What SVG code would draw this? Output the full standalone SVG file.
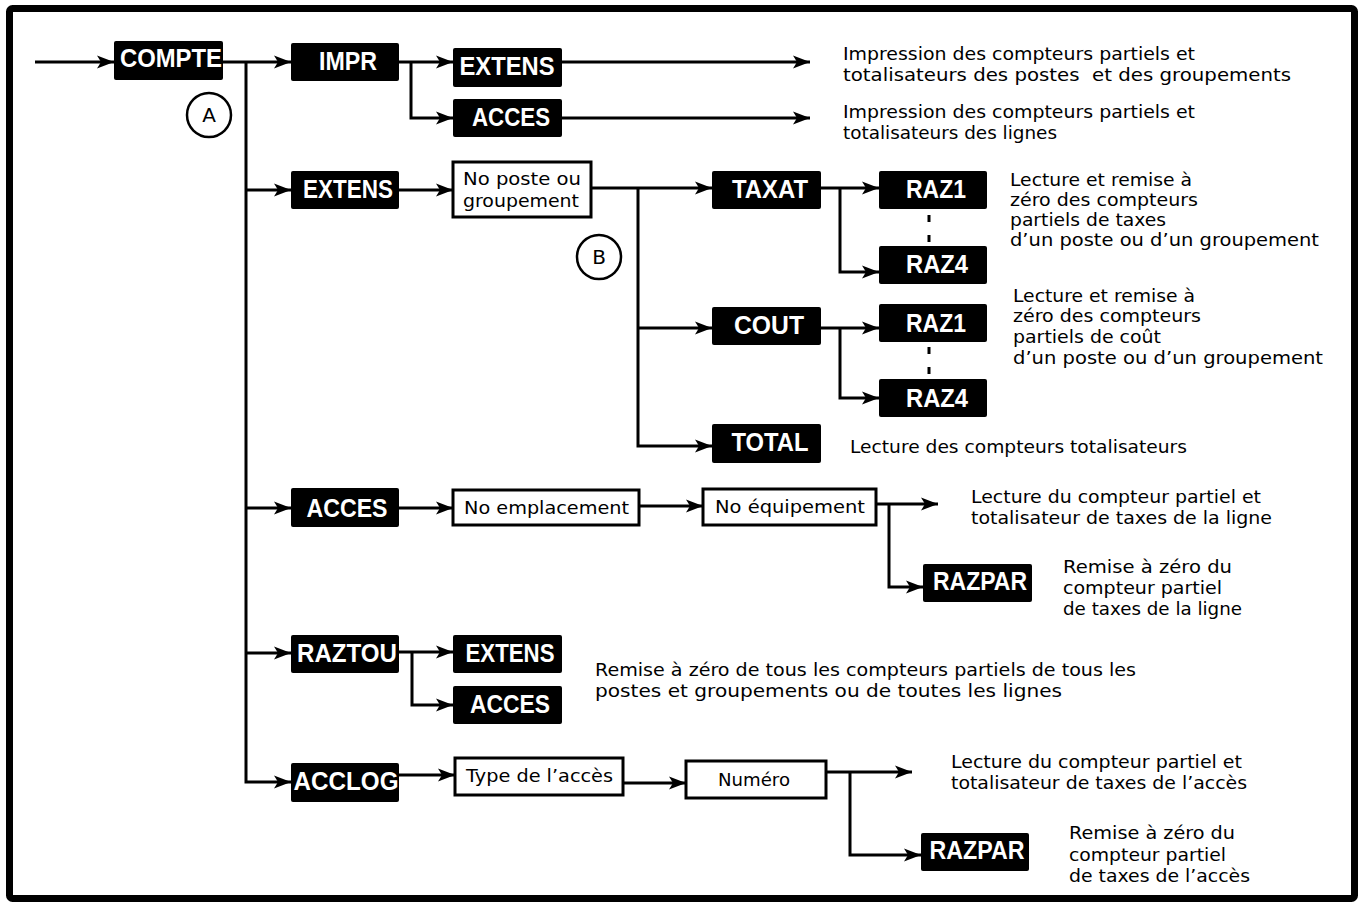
<svg xmlns="http://www.w3.org/2000/svg" width="1370" height="906" viewBox="0 0 1370 906">
<defs>
<style>
.frame{fill:none;stroke:#000;stroke-width:7}
.bk{fill:#000}
.wb{fill:#fff;stroke:#000;stroke-width:3}
.lbl{font-family:"Liberation Sans",Arial,sans-serif;font-weight:bold;font-size:26px;fill:#fff;text-anchor:middle}
.t{font-family:"DejaVu Sans","Noto Sans",sans-serif;font-size:18.5px;fill:#000}
.bt{font-family:"DejaVu Sans","Noto Sans",sans-serif;font-size:18.5px;fill:#000}
.c{fill:none;stroke:#000;stroke-width:3}
.ar{marker-end:url(#ah)}
.dash{fill:none;stroke:#000;stroke-width:3;stroke-dasharray:7 13}
.circ{fill:#fff;stroke:#000;stroke-width:2.5}
.ct{font-family:"DejaVu Sans",sans-serif;font-size:20px;fill:#000;text-anchor:middle}
</style>
<marker id="ah" markerUnits="userSpaceOnUse" markerWidth="18" markerHeight="14" refX="17" refY="7" orient="auto" viewBox="0 0 18 14">
<path d="M0,0.5 L17,7 L0,13.5 L4,7 Z" fill="#000"/>
</marker>
</defs>
<rect width="1370" height="906" fill="#fff"/>
<rect class="frame" x="9.5" y="8.5" width="1345" height="890" rx="3"/>

<g id="connectors">
<path class="c ar" d="M35,62 H114"/>
<path class="c ar" d="M223,62 H291"/>
<path class="c ar" d="M246,62 V782 H291"/>
<path class="c ar" d="M246,190 H291"/>
<path class="c ar" d="M246,508 H291"/>
<path class="c ar" d="M246,653 H291"/>
<path class="c ar" d="M399,62 H453"/>
<path class="c ar" d="M411,62 V118 H453"/>
<path class="c ar" d="M562,62 H810"/>
<path class="c ar" d="M562,118 H810"/>
<path class="c ar" d="M399,190 H453"/>
<path class="c ar" d="M591,188 H712"/>
<path class="c ar" d="M638,188 V446 H712"/>
<path class="c ar" d="M638,328 H712"/>
<path class="c ar" d="M821,188 H879"/>
<path class="c ar" d="M840,188 V272 H879"/>
<path class="c ar" d="M821,328 H879"/>
<path class="c ar" d="M840,328 V398 H879"/>
<path class="dash" d="M929,215 V242"/>
<path class="dash" d="M929,347 V374"/>
<path class="c ar" d="M399,508 H453"/>
<path class="c ar" d="M639,506 H703"/>
<path class="c ar" d="M876,504 H938"/>
<path class="c ar" d="M889,504 V587 H923"/>
<path class="c ar" d="M399,652 H453"/>
<path class="c ar" d="M412,652 V705 H453"/>
<path class="c ar" d="M399,775 H455"/>
<path class="c ar" d="M623,783 H686"/>
<path class="c ar" d="M826,772 H912"/>
<path class="c ar" d="M850,772 V855 H921"/>
</g>

<g id="compte"><rect class="bk" x="114" y="41" width="109" height="39" rx="2"/><text class="lbl" x="171" y="67" textLength="102" lengthAdjust="spacingAndGlyphs">COMPTE</text></g>
<g id="circleA"><circle class="circ" cx="209" cy="115" r="22"/><text class="ct" x="209" y="122">A</text></g>
<g id="impr"><rect class="bk" x="291" y="43" width="108" height="38" rx="2"/><text class="lbl" x="348" y="70" textLength="58" lengthAdjust="spacingAndGlyphs">IMPR</text></g>
<g id="impr-extens"><rect class="bk" x="453" y="48" width="109" height="39" rx="2"/><text class="lbl" x="507" y="75" textLength="95" lengthAdjust="spacingAndGlyphs">EXTENS</text></g>
<g id="impr-acces"><rect class="bk" x="453" y="99" width="109" height="38" rx="2"/><text class="lbl" x="511" y="126" textLength="78" lengthAdjust="spacingAndGlyphs">ACCES</text></g>
<g id="impr-extens-desc"><text class="t" x="843" y="60" textLength="352" lengthAdjust="spacingAndGlyphs">Impression des compteurs partiels et</text><text class="t" x="843" y="81" textLength="448" lengthAdjust="spacingAndGlyphs" xml:space="preserve">totalisateurs des postes  et des groupements</text></g>
<g id="impr-acces-desc"><text class="t" x="843" y="118" textLength="352" lengthAdjust="spacingAndGlyphs">Impression des compteurs partiels et</text><text class="t" x="843" y="139" textLength="214" lengthAdjust="spacingAndGlyphs">totalisateurs des lignes</text></g>

<g id="extens"><rect class="bk" x="291" y="171" width="108" height="38" rx="2"/><text class="lbl" x="348" y="198" textLength="90" lengthAdjust="spacingAndGlyphs">EXTENS</text></g>
<g id="noposte"><rect class="wb" x="453" y="162" width="138" height="55"/><text class="bt" x="463" y="185" textLength="118" lengthAdjust="spacingAndGlyphs">No poste ou</text><text class="bt" x="463" y="207" textLength="116" lengthAdjust="spacingAndGlyphs">groupement</text></g>
<g id="circleB"><circle class="circ" cx="599" cy="257" r="22"/><text class="ct" x="599" y="264">B</text></g>
<g id="taxat"><rect class="bk" x="712" y="171" width="109" height="38" rx="2"/><text class="lbl" x="770" y="198" textLength="76" lengthAdjust="spacingAndGlyphs">TAXAT</text></g>
<g id="taxat-raz1"><rect class="bk" x="879" y="171" width="108" height="38" rx="2"/><text class="lbl" x="936" y="198" textLength="60" lengthAdjust="spacingAndGlyphs">RAZ1</text></g>
<g id="taxat-raz4"><rect class="bk" x="879" y="246" width="108" height="38" rx="2"/><text class="lbl" x="937" y="273" textLength="62" lengthAdjust="spacingAndGlyphs">RAZ4</text></g>
<g id="taxat-desc"><text class="t" x="1010" y="186" textLength="182" lengthAdjust="spacingAndGlyphs">Lecture et remise à</text><text class="t" x="1010" y="206" textLength="188" lengthAdjust="spacingAndGlyphs">zéro des compteurs</text><text class="t" x="1010" y="226" textLength="156" lengthAdjust="spacingAndGlyphs">partiels de taxes</text><text class="t" x="1010" y="246" textLength="309" lengthAdjust="spacingAndGlyphs">d’un poste ou d’un groupement</text></g>
<g id="cout"><rect class="bk" x="712" y="307" width="109" height="38" rx="2"/><text class="lbl" x="769" y="334" textLength="70" lengthAdjust="spacingAndGlyphs">COUT</text></g>
<g id="cout-raz1"><rect class="bk" x="879" y="304" width="108" height="38" rx="2"/><text class="lbl" x="936" y="332" textLength="60" lengthAdjust="spacingAndGlyphs">RAZ1</text></g>
<g id="cout-raz4"><rect class="bk" x="879" y="379" width="108" height="38" rx="2"/><text class="lbl" x="937" y="407" textLength="62" lengthAdjust="spacingAndGlyphs">RAZ4</text></g>
<g id="cout-desc"><text class="t" x="1013" y="302" textLength="182" lengthAdjust="spacingAndGlyphs">Lecture et remise à</text><text class="t" x="1013" y="322" textLength="188" lengthAdjust="spacingAndGlyphs">zéro des compteurs</text><text class="t" x="1013" y="343" textLength="148" lengthAdjust="spacingAndGlyphs">partiels de coût</text><text class="t" x="1013" y="364" textLength="310" lengthAdjust="spacingAndGlyphs">d’un poste ou d’un groupement</text></g>
<g id="total"><rect class="bk" x="712" y="424" width="109" height="39" rx="2"/><text class="lbl" x="770" y="451" textLength="77" lengthAdjust="spacingAndGlyphs">TOTAL</text></g>
<g id="total-desc"><text class="t" x="850" y="453" textLength="337" lengthAdjust="spacingAndGlyphs">Lecture des compteurs totalisateurs</text></g>

<g id="acces"><rect class="bk" x="291" y="488" width="108" height="39" rx="2"/><text class="lbl" x="347" y="517" textLength="81" lengthAdjust="spacingAndGlyphs">ACCES</text></g>
<g id="noemplacement"><rect class="wb" x="453" y="490" width="186" height="35"/><text class="bt" x="464" y="514" textLength="165" lengthAdjust="spacingAndGlyphs">No emplacement</text></g>
<g id="noequipement"><rect class="wb" x="703" y="489" width="173" height="36"/><text class="bt" x="715" y="513" textLength="150" lengthAdjust="spacingAndGlyphs">No équipement</text></g>
<g id="acces-desc"><text class="t" x="971" y="503" textLength="290" lengthAdjust="spacingAndGlyphs">Lecture du compteur partiel et</text><text class="t" x="971" y="524" textLength="301" lengthAdjust="spacingAndGlyphs">totalisateur de taxes de la ligne</text></g>
<g id="acces-razpar"><rect class="bk" x="923" y="564" width="109" height="38" rx="2"/><text class="lbl" x="980" y="590" textLength="94" lengthAdjust="spacingAndGlyphs">RAZPAR</text></g>
<g id="acces-razpar-desc"><text class="t" x="1063" y="573" textLength="169" lengthAdjust="spacingAndGlyphs">Remise à zéro du</text><text class="t" x="1063" y="594" textLength="159" lengthAdjust="spacingAndGlyphs">compteur partiel</text><text class="t" x="1063" y="615" textLength="179" lengthAdjust="spacingAndGlyphs">de taxes de la ligne</text></g>

<g id="raztou"><rect class="bk" x="291" y="635" width="108" height="38" rx="2"/><text class="lbl" x="347" y="662" textLength="100" lengthAdjust="spacingAndGlyphs">RAZTOU</text></g>
<g id="raztou-extens"><rect class="bk" x="453" y="635" width="109" height="38" rx="2"/><text class="lbl" x="510" y="662" textLength="89" lengthAdjust="spacingAndGlyphs">EXTENS</text></g>
<g id="raztou-acces"><rect class="bk" x="453" y="686" width="109" height="38" rx="2"/><text class="lbl" x="510" y="713" textLength="80" lengthAdjust="spacingAndGlyphs">ACCES</text></g>
<g id="raztou-desc"><text class="t" x="595" y="676" textLength="541" lengthAdjust="spacingAndGlyphs">Remise à zéro de tous les compteurs partiels de tous les</text><text class="t" x="595" y="697" textLength="467" lengthAdjust="spacingAndGlyphs">postes et groupements ou de toutes les lignes</text></g>

<g id="acclog"><rect class="bk" x="291" y="763" width="108" height="39" rx="2"/><text class="lbl" x="346" y="790" textLength="105" lengthAdjust="spacingAndGlyphs">ACCLOG</text></g>
<g id="typeacces"><rect class="wb" x="455" y="758" width="168" height="37"/><text class="bt" x="466" y="782" textLength="147" lengthAdjust="spacingAndGlyphs">Type de l’accès</text></g>
<g id="numero"><rect class="wb" x="686" y="761" width="140" height="37"/><text class="bt" x="718" y="786" textLength="72" lengthAdjust="spacingAndGlyphs">Numéro</text></g>
<g id="acclog-desc"><text class="t" x="951" y="768" textLength="291" lengthAdjust="spacingAndGlyphs">Lecture du compteur partiel et</text><text class="t" x="951" y="789" textLength="296" lengthAdjust="spacingAndGlyphs">totalisateur de taxes de l’accès</text></g>
<g id="acclog-razpar"><rect class="bk" x="921" y="833" width="108" height="38" rx="2"/><text class="lbl" x="977" y="859" textLength="95" lengthAdjust="spacingAndGlyphs">RAZPAR</text></g>
<g id="acclog-razpar-desc"><text class="t" x="1069" y="839" textLength="166" lengthAdjust="spacingAndGlyphs">Remise à zéro du</text><text class="t" x="1069" y="861" textLength="157" lengthAdjust="spacingAndGlyphs">compteur partiel</text><text class="t" x="1069" y="882" textLength="181" lengthAdjust="spacingAndGlyphs">de taxes de l’accès</text></g>
</svg>
